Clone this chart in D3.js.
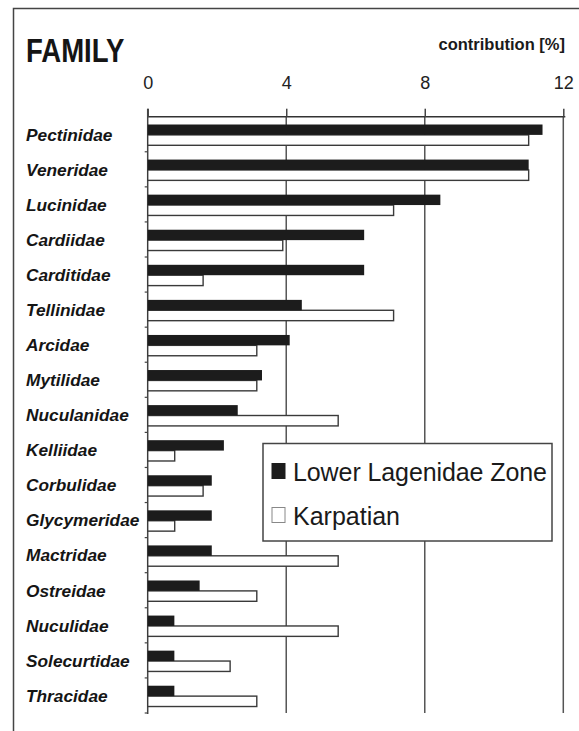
<!DOCTYPE html>
<html>
<head>
<meta charset="utf-8">
<script src="https://cdn.jsdelivr.net/npm/d3@7"></script>
<style>
  html, body { margin: 0; padding: 0; background: #fff; }
  svg { display: block; font-family: "Liberation Sans", Arial, sans-serif; }
</style>
</head>
<body>
<svg id="chart" width="579" height="731"></svg>
<script>
'use strict';

// families, top to bottom
const families = ['Pectinidae', 'Veneridae', 'Lucinidae', 'Cardiidae', 'Carditidae',
    'Tellinidae', 'Arcidae', 'Mytilidae', 'Nuculanidae', 'Kelliidae', 'Corbulidae',
    'Glycymeridae', 'Mactridae', 'Ostreidae', 'Nuculidae', 'Solecurtidae', 'Thracidae'];

// contribution [%]
const lowerLagenidae = [11.4, 11.0, 8.45, 6.25, 6.25, 4.45, 4.1, 3.3, 2.6, 2.2, 1.85,
    1.85, 1.85, 1.5, 0.77, 0.77, 0.77];
const karpatian = [11.0, 11.0, 7.1, 3.9, 1.6, 7.1, 3.15, 3.15, 5.5, 0.78, 1.6,
    0.78, 5.5, 3.15, 5.5, 2.38, 3.15];

const seriesNames = ['Lower Lagenidae Zone', 'Karpatian'];
const xTicks = [0, 4, 8, 12];

const svg = d3.select('#chart');

// frame (right and bottom edges are cut off in the original)
svg.append('path')
    .attr('d', 'M13.5,731 V8.5 H579')
    .attr('fill', 'none')
    .attr('stroke', '#444')
    .attr('stroke-width', 1.5);

const x = d3.scaleLinear().domain([0, 12]).range([147.7, 563.3]);
const y = d3.scaleBand().domain(families).range([116.7, 713]);
const ySub = d3.scaleBand().domain(seriesNames).range([7.8, 28.6]);

// grid lines
svg.append('g').selectAll('line')
    .data(xTicks.slice(1))
    .enter().append('line')
    .attr('x1', (d) => x(d))
    .attr('x2', (d) => x(d))
    .attr('y1', 116.7)
    .attr('y2', 713)
    .attr('stroke', '#555')
    .attr('stroke-width', 1.5);

// top axis
const xAxis = svg.append('g')
    .attr('transform', 'translate(0,116.7)')
    .call(d3.axisTop(x).tickValues(xTicks).tickSize(8).tickSizeOuter(0).tickPadding(20));
xAxis.select('.domain').attr('stroke', '#333').attr('stroke-width', 1.5)
    .attr('d', 'M' + x(0) + ',0H' + (x(12) + 2));
xAxis.selectAll('.tick line').attr('stroke', '#444').attr('stroke-width', 1.5);
xAxis.selectAll('.tick text')
    .attr('font-size', 18)
    .attr('font-family', '"Liberation Sans", Arial, sans-serif')
    .attr('fill', '#222');

// left axis line + small ticks on band edges
svg.append('line')
    .attr('x1', x(0)).attr('x2', x(0))
    .attr('y1', 108.7).attr('y2', 714)
    .attr('stroke', '#444').attr('stroke-width', 1.5);
svg.append('g').selectAll('line')
    .data(families.slice(1).concat(['end']))
    .enter().append('line')
    .attr('x1', x(0) - 3)
    .attr('x2', x(0))
    .attr('y1', (d) => d === 'end' ? 713 : y(d))
    .attr('y2', (d) => d === 'end' ? 713 : y(d))
    .attr('stroke', '#444')
    .attr('stroke-width', 1.2);

// bars
const rows = families.map((f, i) => ({ family: f, values: [lowerLagenidae[i], karpatian[i]] }));

const groups = svg.append('g').selectAll('g')
    .data(rows)
    .enter().append('g')
    .attr('transform', (d) => 'translate(0,' + y(d.family) + ')');

groups.append('rect')
    .attr('x', x(0))
    .attr('y', ySub(seriesNames[1]))
    .attr('width', (d) => x(d.values[1]) - x(0))
    .attr('height', ySub.bandwidth())
    .attr('fill', '#fff')
    .attr('stroke', '#3a3a3a')
    .attr('stroke-width', 1.4);

groups.append('rect')
    .attr('x', x(0))
    .attr('y', ySub(seriesNames[0]))
    .attr('width', (d) => x(d.values[0]) - x(0))
    .attr('height', ySub.bandwidth())
    .attr('fill', '#1c1c1c');

// family labels
svg.append('g').selectAll('text')
    .data(families)
    .enter().append('text')
    .attr('x', 26)
    .attr('y', (d) => y(d) + y.bandwidth() / 2 + 6.3)
    .attr('font-size', 17.3)
    .attr('font-weight', 'bold')
    .attr('font-style', 'italic')
    .attr('fill', '#151515')
    .text((d) => d);

// titles
svg.append('text')
    .attr('transform', 'translate(26,62) scale(0.81,1)')
    .attr('font-size', 34)
    .attr('font-weight', 'bold')
    .attr('fill', '#151515')
    .text('FAMILY');

svg.append('text')
    .attr('x', 565)
    .attr('y', 50)
    .attr('text-anchor', 'end')
    .attr('font-size', 16.5)
    .attr('font-weight', 'bold')
    .attr('fill', '#1a1a1a')
    .text('contribution [%]');

// legend
const legend = svg.append('g').attr('transform', 'translate(263,443.5)');
legend.append('rect')
    .attr('width', 289)
    .attr('height', 97.5)
    .attr('fill', '#fff')
    .attr('stroke', '#444')
    .attr('stroke-width', 1.5);

const legendItems = legend.selectAll('g.item')
    .data(seriesNames)
    .enter().append('g')
    .attr('class', 'item')
    .attr('transform', (d, i) => 'translate(0,' + (i * 44) + ')');

legendItems.append('rect')
    .attr('x', 9)
    .attr('y', 20)
    .attr('width', 13)
    .attr('height', 15)
    .attr('fill', (d, i) => i === 0 ? '#1c1c1c' : '#fff')
    .attr('stroke', (d, i) => i === 0 ? '#1c1c1c' : '#888')
    .attr('stroke-width', 1);

legendItems.append('text')
    .attr('x', 30)
    .attr('y', 37.5)
    .attr('font-size', 25)
    .attr('textLength', (d, i) => i === 0 ? 254 : null)
    .attr('fill', '#1a1a1a')
    .text((d) => d);
</script>
</body>
</html>
